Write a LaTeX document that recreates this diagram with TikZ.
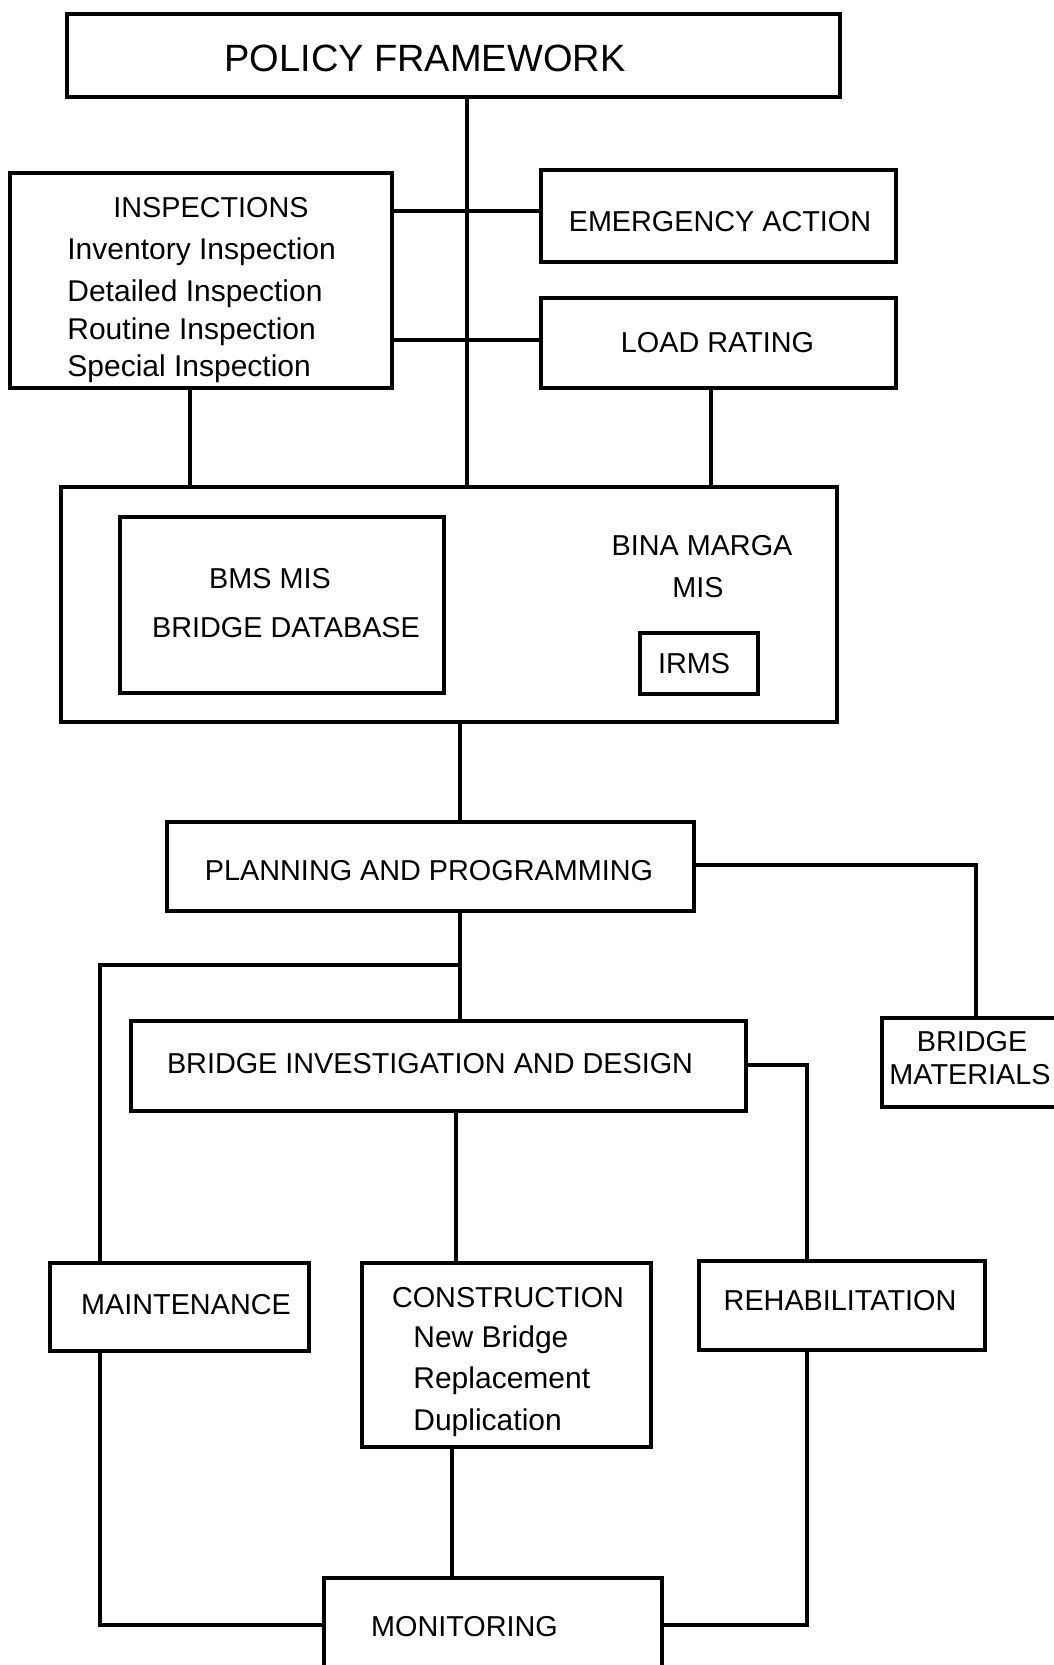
\documentclass[tikz,border=0pt]{standalone}
\usepackage{fontspec}
\setmainfont{Liberation Sans}
\begin{document}
\begin{tikzpicture}[x=0.5pt,y=-0.5pt,
  box/.style={draw, line width=2.2pt, inner sep=0pt, fill=none},
  conn/.style={draw, line width=1.7pt},
  captxt/.style={inner sep=0pt, anchor=base, font=\fontsize{14.4}{17}\selectfont},
  lowtxt/.style={inner sep=0pt, anchor=base west, font=\fontsize{15}{18}\selectfont},
  ttltxt/.style={inner sep=0pt, anchor=base, font=\fontsize{19}{23}\selectfont}]
\useasboundingbox (0,0) rectangle (1054,1665);
\fill[white] (0,0) rectangle (1054,1665);

% boxes
\node[box, minimum width=386.5pt, minimum height=41.5pt] (policy) at (453.5,55.5) {};
\node[box, minimum width=191pt, minimum height=107.5pt] (insp) at (201,280.5) {};
\node[box, minimum width=177.5pt, minimum height=46pt] (emerg) at (718.5,216) {};
\node[box, minimum width=177.5pt, minimum height=45pt] (load) at (718.5,343) {};
\node[box, minimum width=388pt, minimum height=117.5pt] (mis) at (449,604.5) {};
\node[box, minimum width=162pt, minimum height=88pt] (bms) at (282,605) {};
\node[box, minimum width=59pt, minimum height=30.5pt] (irms) at (699,663.5) {};
\node[box, minimum width=263.5pt, minimum height=44.5pt] (plan) at (430.5,866.5) {};
\node[box, minimum width=91pt, minimum height=44.5pt] (mat) at (973,1062.5) {};
\node[box, minimum width=307.5pt, minimum height=45pt] (bi) at (438.5,1066) {};
\node[box, minimum width=129.5pt, minimum height=44pt] (maint) at (179.5,1307) {};
\node[box, minimum width=144.5pt, minimum height=92pt] (cons) at (506.5,1355) {};
\node[box, minimum width=143pt, minimum height=44.5pt] (rehab) at (842,1305.5) {};
\node[box, minimum width=169pt, minimum height=51pt] (mon) at (493,1629) {};

% texts
\node[ttltxt] (tpolicy) at (425,71) {POLICY FRAMEWORK};
\node[captxt] (tinsp) at (211,217) {INSPECTIONS};
\node[lowtxt] (tinv) at (67,259) {Inventory Inspection};
\node[lowtxt] (tdet) at (67,301) {Detailed Inspection};
\node[lowtxt] (trou) at (67,339) {Routine Inspection};
\node[lowtxt] (tspe) at (67,376) {Special Inspection};
\node[captxt] (temerg) at (720,231) {EMERGENCY ACTION};
\node[captxt] (tload) at (717.5,352) {LOAD RATING};
\node[captxt] (tbms) at (270,588) {BMS MIS};
\node[captxt] (tbdb) at (286,637) {BRIDGE DATABASE};
\node[captxt] (tbina) at (702,555) {BINA MARGA};
\node[captxt] (tmis) at (698,597) {MIS};
\node[captxt] (tirms) at (694,673) {IRMS};
\node[captxt] (tplan) at (429,880) {PLANNING AND PROGRAMMING};
\node[captxt] (tbi) at (430,1073) {BRIDGE INVESTIGATION AND DESIGN};
\node[captxt] (tmat1) at (972,1051) {BRIDGE};
\node[captxt] (tmat2) at (970,1084) {MATERIALS};
\node[captxt] (tmaint) at (186,1314) {MAINTENANCE};
\node[captxt] (tcons) at (508,1307) {CONSTRUCTION};
\node[lowtxt] (tnew) at (413,1347) {New Bridge};
\node[lowtxt] (trep) at (413,1388) {Replacement};
\node[lowtxt] (tdup) at (413,1430) {Duplication};
\node[captxt] (trehab) at (840,1310) {REHABILITATION};
\node[captxt] (tmon) at (464.5,1636) {MONITORING};

% reference coordinates
\coordinate (xT) at (467,0);
\coordinate (yE) at (0,211);
\coordinate (yL) at (0,340);
\coordinate (xI) at (190,0);
\coordinate (xLR) at (711,0);
\coordinate (xM) at (460,0);
\coordinate (yP) at (0,865);
\coordinate (xBM) at (976,0);
\coordinate (jH) at (460,965);
\coordinate (xL) at (100,0);
\coordinate (yBI) at (0,1065);
\coordinate (xR) at (807,0);
\coordinate (xC) at (456,0);
\coordinate (xC2) at (452,0);
\coordinate (yMon) at (0,1625);

% connectors
\draw[conn] (policy.south -| xT) -- (mis.north -| xT);
\draw[conn] (insp.east |- yE) -- (emerg.west |- yE);
\draw[conn] (insp.east |- yL) -- (load.west |- yL);
\draw[conn] (insp.south -| xI) -- (mis.north -| xI);
\draw[conn] (load.south -| xLR) -- (mis.north -| xLR);
\draw[conn] (mis.south -| xM) -- (plan.north -| xM);
\draw[conn] (plan.east |- yP) -| (mat.north -| xBM);
\draw[conn] (plan.south -| xM) -- (bi.north -| xM);
\draw[conn] (jH) -| (maint.north -| xL);
\draw[conn] (bi.east |- yBI) -| (rehab.north -| xR);
\draw[conn] (bi.south -| xC) -- (cons.north -| xC);
\draw[conn] (cons.south -| xC2) -- (mon.north -| xC2);
\draw[conn] (maint.south -| xL) |- (mon.west |- yMon);
\draw[conn] (rehab.south -| xR) |- (mon.east |- yMon);
\end{tikzpicture}
\end{document}
